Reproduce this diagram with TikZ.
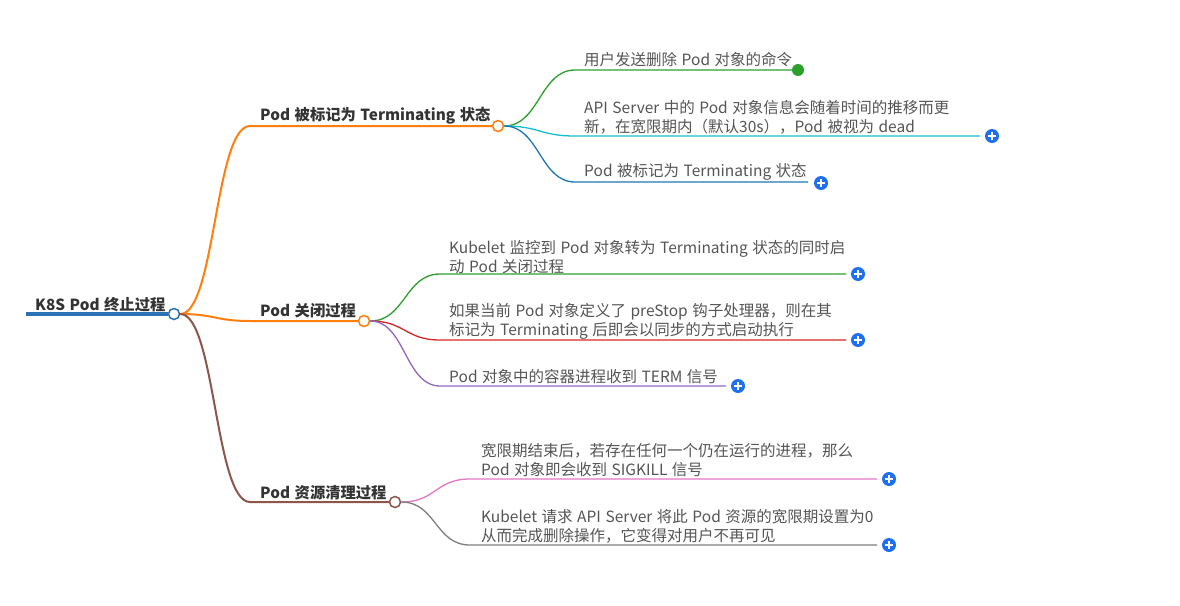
\documentclass[tikz,border=0pt]{standalone}
\usepackage{fontspec}
\setmainfont{Noto Sans CJK SC}[WordSpace=1.3]
\definecolor{rootblue}{HTML}{2A72B5}
\definecolor{corange}{HTML}{FF7F0E}
\definecolor{cbrown}{HTML}{8C564B}
\definecolor{cgreen}{HTML}{2CA02C}
\definecolor{ccyan}{HTML}{17BECF}
\definecolor{cblue}{HTML}{1F77B4}
\definecolor{cred}{HTML}{D62728}
\definecolor{cpurple}{HTML}{9467BD}
\definecolor{cpink}{HTML}{E377C2}
\definecolor{cgray}{HTML}{7F7F7F}
\definecolor{plusblue}{HTML}{1F6FF2}
\definecolor{txtgray}{HTML}{555555}
\definecolor{txtdark}{HTML}{333333}
\begin{document}
\begin{tikzpicture}[x=1pt,y=-1pt,
  lbl/.style={font=\fontsize{15.5}{19}\selectfont, text=txtgray, inner sep=0, anchor=west, align=left},
  head/.style={font=\fontsize{15.3}{19}\selectfont\bfseries, text=txtdark, inner sep=0, anchor=west},
  knob/.style={circle, draw=#1, fill=white, line width=1.5pt, minimum size=11pt, inner sep=0},
  plusbtn/.style={circle, fill=plusblue, minimum size=14pt, inner sep=0,
    path picture={\draw[white, line width=1.6pt]
      ([xshift=-3.6pt]path picture bounding box.center) -- ([xshift=3.6pt]path picture bounding box.center)
      ([yshift=-3.6pt]path picture bounding box.center) -- ([yshift=3.6pt]path picture bounding box.center);}},
  enddot/.style={circle, fill=#1, minimum size=12pt, inner sep=0},
  branch/.style={draw=#1, line width=2pt},
  twig/.style={draw=#1, line width=1.3pt},
]
\path[fill=white, use as bounding box] (0,0) rectangle (1180,605);

% root
\coordinate (r0) at (26,314);
\node[knob=rootblue] (rc) at (174,314) {};
\draw[rootblue, line width=4pt] (r0) -- (rc.west);
\node[head] (rt) at (35,305) {K8S Pod 终止过程};

% branch 1
\node[knob=corange] (b1c) at (498,126) {};
\coordinate (b1s) at (250,126);
\draw[branch=corange] (rc.east) .. controls +(35,0) and +(-35,0) .. (b1s) -- (b1c.west);
\node[head] (b1t) at (260,116) {Pod 被标记为 Terminating 状态};

% branch 2
\node[knob=corange] (b2c) at (364,321) {};
\coordinate (b2s) at (250,321);
\draw[branch=corange] (rc.east) .. controls +(35,0) and +(-35,0) .. (b2s) -- (b2c.west);
\node[head] (b2t) at (260,311) {Pod 关闭过程};

% branch 3
\node[knob=cbrown] (b3c) at (395,502) {};
\coordinate (b3s) at (250,502);
\draw[branch=cbrown] (rc.east) .. controls +(35,0) and +(-35,0) .. (b3s) -- (b3c.west);
\node[head] (b3t) at (260,493) {Pod 资源清理过程};

% children of branch 1
\node[enddot=cgreen] (e11) at (798,70) {};
\coordinate (s11) at (575,70);
\draw[twig=cgreen] (b1c.east) .. controls +(35,0) and +(-35,0) .. (s11) -- (e11.west);
\node[lbl] (t11) at (584,60) {用户发送删除 Pod 对象的命令};

\node[plusbtn] (e12) at (992,136) {};
\coordinate (s12) at (575,136);
\coordinate (f12) at (980,136);
\draw[twig=ccyan] (b1c.east) .. controls +(35,0) and +(-35,0) .. (s12) -- (f12);
\node[lbl] (t12) at (584,117.5) {API Server 中的 Pod 对象信息会随着时间的推移而更\\新，在宽限期内（默认30s），Pod 被视为 dead};

\node[plusbtn] (e13) at (821,183) {};
\coordinate (s13) at (575,182);
\coordinate (f13) at (808,182);
\draw[twig=cblue] (b1c.east) .. controls +(35,0) and +(-35,0) .. (s13) -- (f13);
\node[lbl] (t13) at (584,172) {Pod 被标记为 Terminating 状态};

% children of branch 2
\node[plusbtn] (e21) at (858,274) {};
\coordinate (s21) at (440,274);
\coordinate (f21) at (846,274);
\draw[twig=cgreen] (b2c.east) .. controls +(35,0) and +(-35,0) .. (s21) -- (f21);
\node[lbl] (t21) at (449,257) {Kubelet 监控到 Pod 对象转为 Terminating 状态的同时启\\动 Pod 关闭过程};

\node[plusbtn] (e22) at (858,340) {};
\coordinate (s22) at (440,340);
\coordinate (f22) at (846,340);
\draw[twig=cred] (b2c.east) .. controls +(35,0) and +(-35,0) .. (s22) -- (f22);
\node[lbl] (t22) at (449,321.5) {如果当前 Pod 对象定义了 preStop 钩子处理器，则在其\\标记为 Terminating 后即会以同步的方式启动执行};

\node[plusbtn] (e23) at (738,386) {};
\coordinate (s23) at (440,386);
\coordinate (f23) at (726,386);
\draw[twig=cpurple] (b2c.east) .. controls +(35,0) and +(-35,0) .. (s23) -- (f23);
\node[lbl] (t23) at (449,377) {Pod 对象中的容器进程收到 TERM 信号};

% children of branch 3
\node[plusbtn] (e31) at (889,479) {};
\coordinate (s31) at (470,479);
\coordinate (f31) at (877,479);
\draw[twig=cpink] (b3c.east) .. controls +(35,0) and +(-35,0) .. (s31) -- (f31);
\node[lbl] (t31) at (481,460.5) {宽限期结束后，若存在任何一个仍在运行的进程，那么\\Pod 对象即会收到 SIGKILL 信号};

\node[plusbtn] (e32) at (889,545) {};
\coordinate (s32) at (470,545);
\coordinate (f32) at (877,545);
\draw[twig=cgray] (b3c.east) .. controls +(35,0) and +(-35,0) .. (s32) -- (f32);
\node[lbl] (t32) at (481,526.5) {Kubelet 请求 API Server 将此 Pod 资源的宽限期设置为0\\从而完成删除操作，它变得对用户不再可见};
\end{tikzpicture}
\end{document}
